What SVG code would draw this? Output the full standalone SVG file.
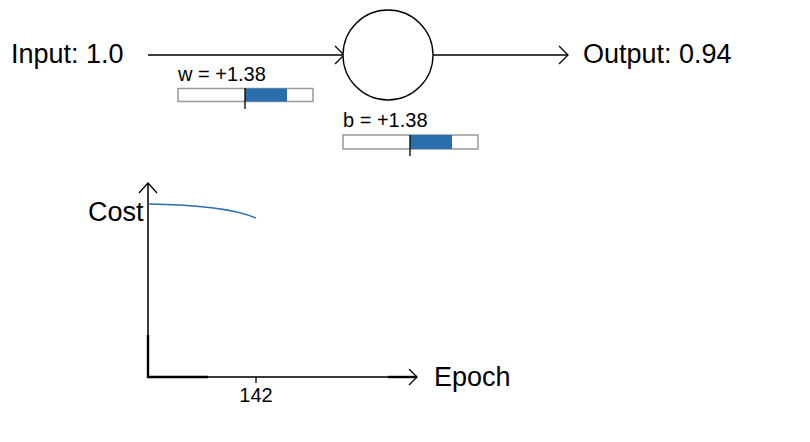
<svg xmlns="http://www.w3.org/2000/svg" width="810" height="442" viewBox="0 0 810 442">
<style>
.big{font-family:"Liberation Sans",Arial,sans-serif;font-size:27px;fill:#000}
.small{font-family:"Liberation Sans",Arial,sans-serif;font-size:20px;fill:#000}
.conn{stroke:#000;stroke-width:1.3;fill:none}
.head{stroke:#000;stroke-width:1.3;fill:none}
.bar{fill:#fff;stroke:#999;stroke-width:1.5}
.fill{fill:#2a6fad}
.tick{stroke:#000;stroke-width:1.3}
.axis{stroke:#3a3a3a;stroke-width:2;fill:none}
.axisd{stroke:#000;stroke-width:2.4;fill:none}
</style>
<rect width="810" height="442" fill="#fff"/>
<g id="connectors">
<line class="conn" x1="148" y1="55" x2="344" y2="55"/>
<polyline class="head" points="335,46 344,55 335,64"/>
<line class="conn" x1="433" y1="55" x2="568" y2="55"/>
<polyline class="head" points="559,46 568,55 559,64"/>
</g>
<g id="input"><text class="big" x="11" y="63">Input: 1.0</text></g>
<g id="neuron"><circle cx="388" cy="55" r="45" fill="#fff" stroke="#000" stroke-width="1.3"/></g>
<g id="output"><text class="big" x="583" y="63">Output: 0.94</text></g>
<g id="weight">
<text class="small" x="178" y="81">w = +1.38</text>
<rect class="bar" x="178" y="88.5" width="135" height="13"/>
<rect class="fill" x="245" y="88.5" width="42" height="13"/>
<line class="tick" x1="245" y1="88" x2="245" y2="109"/>
</g>
<g id="bias">
<text class="small" x="343" y="126.5">b = +1.38</text>
<rect class="bar" x="343" y="135" width="135" height="14"/>
<rect class="fill" x="410" y="135" width="42" height="14"/>
<line class="tick" x1="410" y1="135" x2="410" y2="156"/>
</g>
<g id="chart">
<line class="axis" x1="148" y1="377" x2="148" y2="183"/>
<line class="axisd" x1="148" y1="378" x2="148" y2="335"/>
<polyline class="head" points="139,193 148,183 157,193"/>
<line class="axis" x1="148" y1="377" x2="417" y2="377"/>
<line class="axisd" x1="147" y1="377" x2="208" y2="377"/>
<line class="axisd" x1="388" y1="377" x2="417" y2="377"/>
<polyline class="head" points="409,369 417,377 409,385"/>
<path d="M148,204 C190,204.5 230,207 256,218" fill="none" stroke="#2a6fad" stroke-width="1.5"/>
<line class="tick" x1="256" y1="377" x2="256" y2="383"/>
<text class="small" x="256" y="402" text-anchor="middle">142</text>
<text class="big" x="88" y="221">Cost</text>
<text class="big" x="434" y="386">Epoch</text>
</g>
</svg>
